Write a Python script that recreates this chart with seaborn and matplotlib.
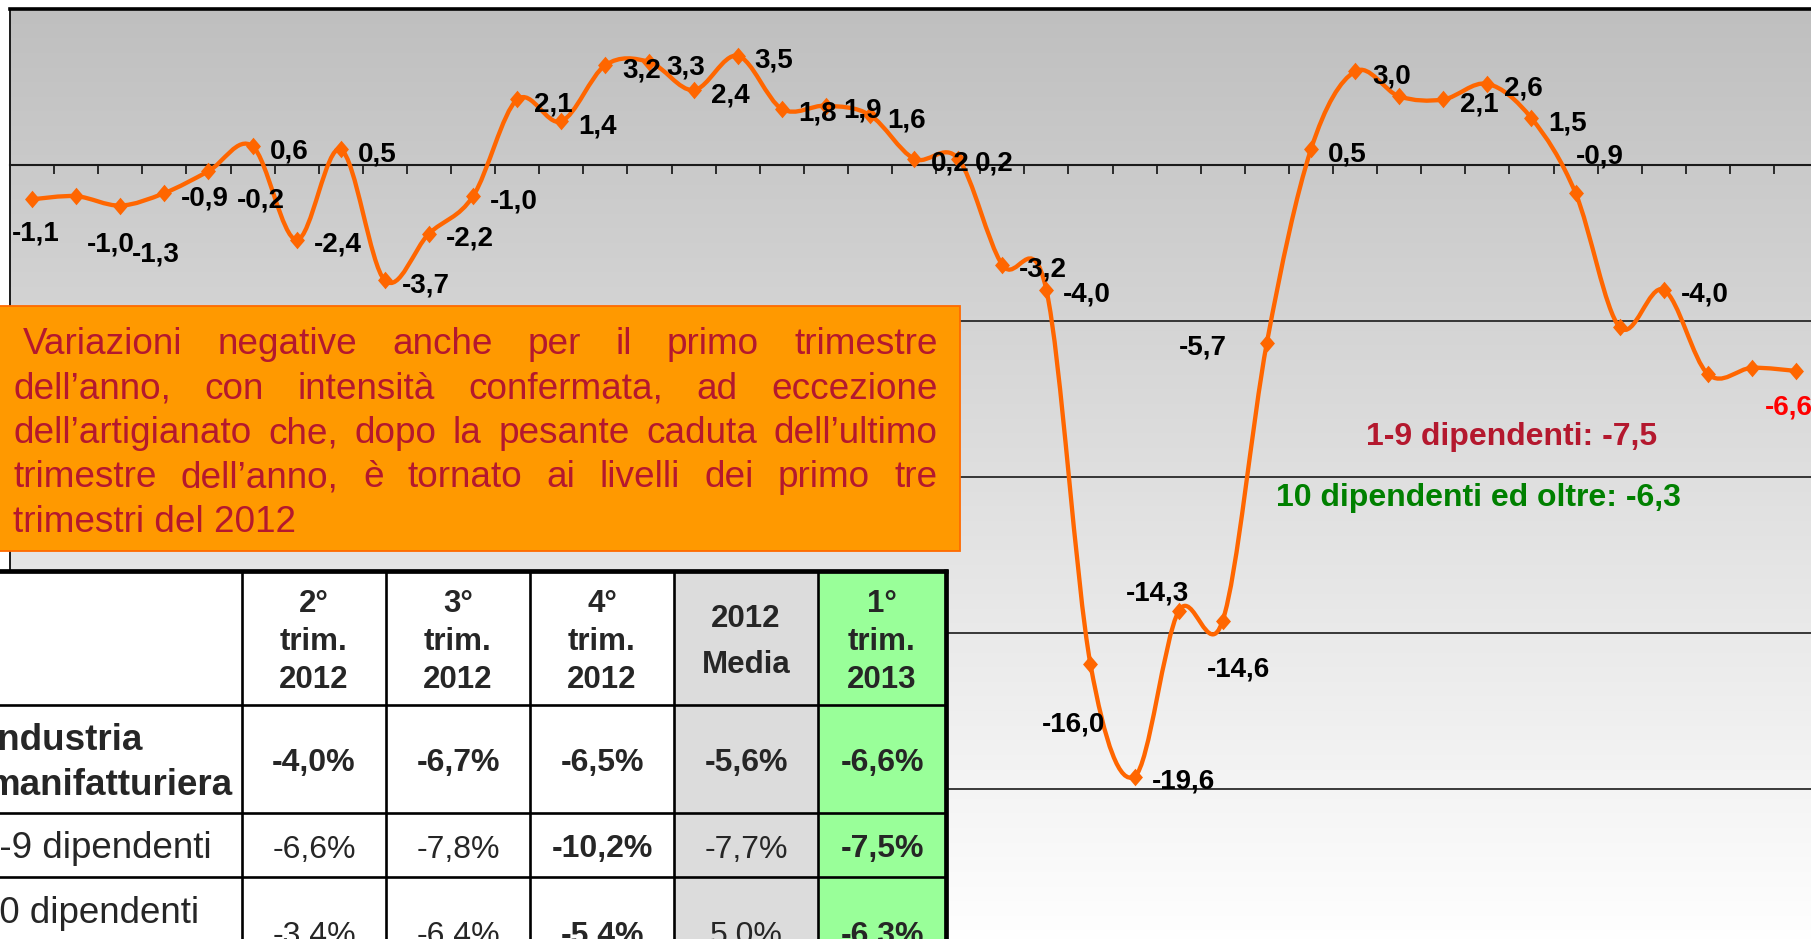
import numpy as np
import pandas as pd
import matplotlib
matplotlib.use("Agg")
import matplotlib.pyplot as plt
from matplotlib.path import Path
from matplotlib.patches import PathPatch, Rectangle
from matplotlib.colors import LinearSegmentedColormap
import seaborn as sns

# variazioni % trimestrali - industria manifatturiera
values = [-1.1, -1.0, -1.3, -0.9, -0.2, 0.6, -2.4, 0.5, -3.7, -2.2,
          -1.0, 2.1, 1.4, 3.2, 3.3, 2.4, 3.5, 1.8, 1.9, 1.6,
          0.2, 0.2, -3.2, -4.0, -16.0, -19.6, -14.3, -14.6, -5.7, 0.5,
          3.0, 2.2, 2.1, 2.6, 1.5, -0.9, -5.2, -4.0, -6.7, -6.5, -6.6]
no_label = [31, 36, 38, 39]

note_lines = [
    "Variazioni negative anche per il primo trimestre",
    "dell\u2019anno, con intensit\u00e0 confermata, ad eccezione",
    "dell\u2019artigianato che, dopo la pesante caduta dell\u2019ultimo",
    "trimestre dell\u2019anno, \u00e8 tornato ai livelli dei primo tre",
    "trimestri del 2012",
]

col_headers = ["2\u00b0\ntrim.\n2012", "3\u00b0\ntrim.\n2012", "4\u00b0\ntrim.\n2012",
               "2012\nMedia", "1\u00b0\ntrim.\n2013"]
row_names = ["Industria\nmanifatturiera", "1-9 dipendenti", "10 dipendenti\ned oltre"]
row_industria = ["-4,0%", "-6,7%", "-6,5%", "-5,6%", "-6,6%"]
row_1_9 = ["-6,6%", "-7,8%", "-10,2%", "-7,7%", "-7,5%"]
row_10_oltre = ["-3,4%", "-6,4%", "-5,4%", "5,0%", "-6,3%"]

side_notes = ["1-9 dipendenti: -7,5", "10 dipendenti ed oltre: -6,3"]

# --- style -------------------------------------------------------------
sns.set_style("white")
plt.rcParams["font.family"] = ["Liberation Sans", "DejaVu Sans"]

ORANGE = "#FF6600"
W, H = 1811, 939

fig = plt.figure(figsize=(W / 100, H / 100), dpi=100)
ax = fig.add_axes([10 / W, -6 / H, 41 * 44.1 / W, 936 / H])

n = len(values)
df = pd.DataFrame({"q": np.arange(n), "v": values})

# gradient background of the plot area
bg = LinearSegmentedColormap.from_list("bg", ["#FFFFFF", "#BFBFBF"])
ax.imshow(np.linspace(0, 1, 256).reshape(-1, 1), extent=(-0.5, n - 0.5, -25, 5),
          origin="lower", aspect="auto", cmap=bg, zorder=0)

# smoothed line (Excel style bezier through the points)
P = df[["q", "v"]].to_numpy(dtype=float)
verts = [tuple(P[0])]
codes = [Path.MOVETO]
for i in range(n - 1):
    pm = P[i - 1] if i > 0 else P[i]
    pp = P[i + 2] if i + 2 < n else P[i + 1]
    c1 = P[i] + (P[i + 1] - pm) / 6
    c2 = P[i + 1] - (pp - P[i]) / 6
    verts += [tuple(c1), tuple(c2), tuple(P[i + 1])]
    codes += [Path.CURVE4] * 3
ax.add_patch(PathPatch(Path(verts, codes), fill=False, edgecolor=ORANGE,
                       lw=3.1, capstyle="round", joinstyle="round", zorder=3))

diamond = [(0, 1), (0.85, 0), (0, -1), (-0.85, 0), (0, 1)]
sns.scatterplot(data=df, x="q", y="v", marker=diamond, s=160, color=ORANGE,
                linewidth=0, zorder=4, ax=ax, legend=False)

# data labels: (ha, dx, dy) in pixels relative to marker
label_pos = {0: ("center", 4, 31), 1: ("left", 11, 45), 2: ("left", 12, 46),
             4: ("left", 28, 26), 24: ("center", -17, 57), 26: ("center", -21, -21),
             27: ("center", 16, 46), 28: ("right", -40, 2), 35: ("center", 24, -40),
             40: ("left", -31, 34)}
for i, v in enumerate(values):
    if i in no_label:
        continue
    ha, dx, dy = label_pos.get(i, ("left", 17, 2))
    col = "#FF0000" if i == n - 1 else "black"
    ax.annotate(f"{v:.1f}".replace(".", ","), (i, v), xytext=(dx, -(dy + 10)),
                textcoords="offset pixels", ha=ha, va="baseline", fontsize=20,
                fontweight="bold", color=col, zorder=6, annotation_clip=False)

ax.set_xlim(-0.5, n - 0.5)
ax.set_ylim(-25, 5)
ax.set_xlabel("")
ax.set_ylabel("")
ax.set_xticks(np.arange(0.5, n - 0.5, 1))
ax.tick_params(axis="x", direction="out", length=6.5, width=1.1, color="black",
               labelbottom=False, bottom=True)
ax.set_yticks([-20, -15, -10, -5])
ax.tick_params(axis="y", length=0, labelleft=False)
ax.set_axisbelow(True)
ax.yaxis.grid(True, color="#1A1A1A", lw=1.2)
ax.spines["bottom"].set_position(("data", 0))
ax.spines["bottom"].set_linewidth(1.5)
ax.spines["bottom"].set_color("#1A1A1A")
ax.spines["top"].set_linewidth(2.6)
ax.spines["top"].set_color("black")
ax.spines["left"].set_linewidth(1.4)
ax.spines["left"].set_color("#1A1A1A")
ax.spines["right"].set_visible(False)

# --- overlay in pixel coordinates: note box, table, side notes ----------
ax2 = fig.add_axes([0, 0, 1, 1], zorder=10)
ax2.set_xlim(0, W)
ax2.set_ylim(H, 0)
ax2.axis("off")
ax2.patch.set_alpha(0)

TXT_RED = "#B4182E"
ax2.add_patch(Rectangle((-5, 306), 965, 245, facecolor="#FF9900",
                        edgecolor="#FF6A00", lw=1.3))
renderer = fig.canvas.get_renderer()
note_right = 937.5
for k, line in enumerate(note_lines):
    y = 354.5 + k * 44.3
    left = 23.3 if k == 0 else 13.3
    kw = dict(fontsize=26.6, color=TXT_RED, ha="left", va="baseline")
    if k == len(note_lines) - 1:
        ax2.text(left, y, line, **kw)
        continue
    words = line.split()
    texts = [ax2.text(0, y, w, **kw) for w in words]
    widths = [t.get_window_extent(renderer=renderer).width for t in texts]
    gap = (note_right - left - sum(widths)) / (len(words) - 1)
    xpos = left
    for t, w in zip(texts, widths):
        t.set_x(xpos)
        xpos += w + gap

# table (it runs past the left edge of the picture, as in the slide)
col_edges = [-60, 242, 386, 530, 674, 818, 946]
row_edges = [571, 705, 813, 877, 1000]
col_fill = ["white", "white", "white", "white", "#DCDCDC", "#99FF99"]
for c in range(len(col_edges) - 1):
    ax2.add_patch(Rectangle((col_edges[c], row_edges[0]),
                            col_edges[c + 1] - col_edges[c],
                            row_edges[-1] - row_edges[0],
                            facecolor=col_fill[c], edgecolor="none"))
ax2.hlines(row_edges[1:-1], col_edges[0], col_edges[-1], color="black", lw=1.9)
ax2.vlines(col_edges[1:-1], row_edges[0], row_edges[-1], color="black", lw=1.9)
ax2.hlines(row_edges[0], col_edges[0], col_edges[-1] + 2, color="black", lw=3.4)
ax2.vlines(col_edges[-1], row_edges[0] - 2, row_edges[-1], color="black", lw=3.4)

centers = [(col_edges[c] + col_edges[c + 1]) / 2 for c in range(1, len(col_edges) - 1)]
for cx, head in zip(centers, col_headers):
    parts = head.split("\n")
    if len(parts) == 3:
        bases = [611.7, 650.3, 688.5]
    else:
        bases = [626.7, 672.7]
    for b, p in zip(bases, parts):
        ax2.text(cx, b, p, ha="center", va="baseline", fontsize=22.5, fontweight="bold")

name_bases = [[750, 795], [857.5], [923.3, 968.3]]
name_x = [-12.5, -21, -21]
for r, (name, bases) in enumerate(zip(row_names, name_bases)):
    for b, p in zip(bases, name.split("\n")):
        ax2.text(name_x[r], b, p, ha="left", va="baseline", fontsize=26.5,
                 fontweight="bold" if r == 0 else "normal")

bold_cols = [[0, 1, 2, 3, 4], [2, 4], [2, 4]]
value_bases = [771, 857.5, 944]
for r, (row, b) in enumerate(zip([row_industria, row_1_9, row_10_oltre], value_bases)):
    for c, (cx, val) in enumerate(zip(centers, row)):
        ax2.text(cx, b, val, ha="center", va="baseline", fontsize=23,
                 fontweight="bold" if c in bold_cols[r] else "normal")

# side notes
ax2.text(1511.7, 444.7, side_notes[0], ha="center", va="baseline", fontsize=23,
         fontweight="bold", color=TXT_RED)
ax2.text(1478.3, 506.4, side_notes[1], ha="center", va="baseline", fontsize=23,
         fontweight="bold", color="#008000")

fig.savefig("out.png", dpi=100)
